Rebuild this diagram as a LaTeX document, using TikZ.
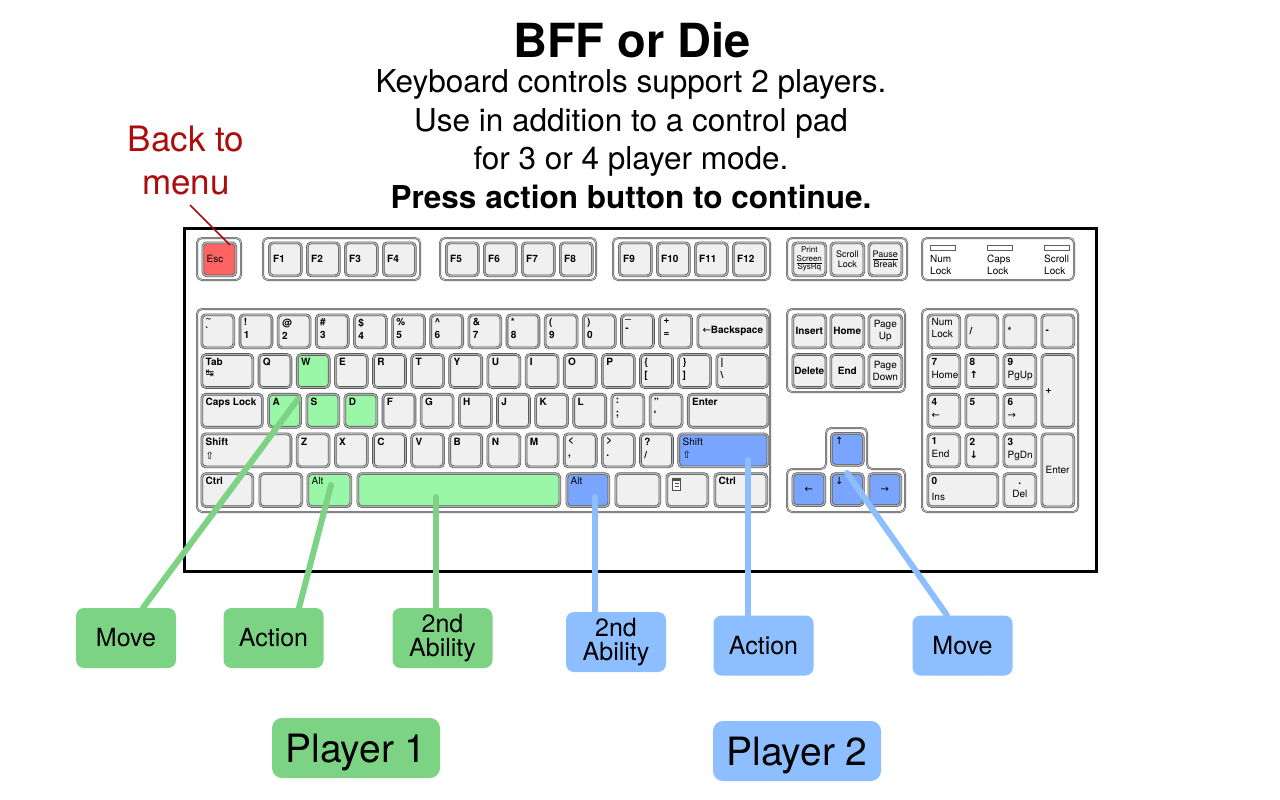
\documentclass[tikz,border=0pt]{standalone}
\usepackage{fontspec}
\setmainfont{TeX Gyre Heros}
\newfontfamily\symfont{DejaVu Sans}
\usepackage{tikz}
\usetikzlibrary{
	positioning,
	shapes.geometric
}
\definecolor{KeyFace}{RGB}{240,240,240}
\definecolor{KeyEdge}{RGB}{80,80,80}
\definecolor{KeyRim}{RGB}{175,175,175}
\definecolor{GroupEdge}{RGB}{95,95,95}
\definecolor{GroupRim}{RGB}{200,200,200}
\definecolor{GreenKey}{RGB}{155,247,168}
\definecolor{BlueKey}{RGB}{121,165,255}
\definecolor{RedKey}{RGB}{255,100,100}
\definecolor{GreenTag}{RGB}{124,211,132}
\definecolor{BlueTag}{RGB}{141,190,255}
\definecolor{MenuRed}{RGB}{172,12,12}

% [label options], name, left x, top y, width, height, face colour, label anchor, label
\newcommand{\keycap}[9][]{%
	\node[
	keycap,
	fill=#7,
	minimum width={#5-3},
	minimum height={#6-3},
	anchor=north west
	] (#2) at ({#3+1.5},{#4+1.5}) {};
	\node[keytext, anchor=#8, lbl #8, #1] at (#2.#8) {#9};
}

\begin{document}
\begin{tikzpicture}[
				x=1pt,
				y=-1pt,
				every node/.style={
					font=\fontsize{10}{13}\selectfont
				},
				keycap/.style={
					draw=KeyEdge,
					double=KeyRim,
					double distance=1.4pt,
					line width=0.6pt,
					rounded corners=4pt,
					inner sep=0pt
				},
				keytext/.style={
					inner sep=4pt,
					font=\fontsize{10}{13}\selectfont\bfseries
				},
				keythin/.style={
					font=\fontsize{10}{12}\selectfont
				},
				keytiny/.style={
					font=\fontsize{8}{8.5}\selectfont
				},
				lbl north west/.style={align=left},
				lbl west/.style={align=left},
				lbl center/.style={align=center},
				kbgroup/.style={
					draw=GroupEdge,
					double=GroupRim,
					double distance=0.8pt,
					line width=0.6pt,
					rounded corners=5pt,
					fill=white
				},
				ledtext/.style={
					anchor=north west,
					inner sep=0pt,
					align=left,
					font=\fontsize{10}{12}\selectfont
				},
				tag/.style={
					rounded corners=8pt,
					minimum width=100pt,
					minimum height=60pt,
					align=center,
					font=\fontsize{25}{24}\selectfont
				},
				player/.style={
					rounded corners=10pt,
					minimum width=168pt,
					minimum height=60pt,
					text depth=0pt,
					font=\fontsize{39}{40}\selectfont
				},
				link/.style={
					line width=6pt,
					line cap=round
				}
				]
				
				\fill[white] (0,0) rectangle (1280,800);
				\useasboundingbox (0,0) rectangle (1280,800);
				
				% heading
				\node[font=\fontsize{47}{50}\selectfont\bfseries] (title) at (632,40) {BFF or Die};
				\node[
				align=center,
				font=\fontsize{31.5}{38.5}\selectfont
				] (info) at (631,139) {Keyboard controls support 2 players.\\Use in addition to a control pad\\for 3 or 4 player mode.\\\textbf{Press action button to continue.}};
				
				\node[
				align=center,
				text=MenuRed,
				font=\fontsize{35}{43}\selectfont
				] (back) at (186,161) {Back to\\menu};
				
				% keyboard body
				\draw[line width=3pt] (184,228) rectangle (1096,571);
				
				\draw[kbgroup] (197,238) rectangle (241,280);
				\draw[kbgroup] (263,238) rectangle (420,280);
				\draw[kbgroup] (440,238) rectangle (596,280);
				\draw[kbgroup] (613,238) rectangle (770,280);
				\draw[kbgroup] (787,238) rectangle (907,280);
				\draw[kbgroup] (922,238) rectangle (1074,280);
				\draw[kbgroup] (197,309) rectangle (770,512);
				\draw[kbgroup] (787,309) rectangle (905,392);
				\draw[kbgroup] (787,469) -- (826,469) -- (826,428) -- (867,428) -- (867,469) -- (905,469) -- (905,512) -- (787,512) -- cycle;
				\draw[kbgroup] (922,309) rectangle (1078,512);
				
				% function row
				\keycap[keythin]{esc}{201}{241}{36}{36}{RedKey}{west}{Esc}
				\foreach \lbl [count=\i from 0] in {F1,F2,F3,F4}{
					\pgfmathsetmacro\kx{267.5+38*\i}
					\keycap{fa\i}{\kx}{241}{35}{36}{KeyFace}{west}{\lbl}
				}
				\foreach \lbl [count=\i from 0] in {F5,F6,F7,F8}{
					\pgfmathsetmacro\kx{444.5+38*\i}
					\keycap{fb\i}{\kx}{241}{35}{36}{KeyFace}{west}{\lbl}
				}
				\foreach \lbl [count=\i from 0] in {F9,F10,F11,F12}{
					\pgfmathsetmacro\kx{617.5+38*\i}
					\keycap{fc\i}{\kx}{241}{35}{36}{KeyFace}{west}{\lbl}
				}
				\keycap[keytiny]{prt}{791}{241}{36}{36}{KeyFace}{center}{Print\\\underline{Screen}\\SysRq}
				\keycap[keytiny, font=\fontsize{9}{10}\selectfont]{scr}{829}{241}{36}{36}{KeyFace}{center}{Scroll\\Lock}
				\keycap[keytiny, font=\fontsize{9}{10}\selectfont]{pau}{867}{241}{36}{36}{KeyFace}{center}{\underline{Pause}\\Break}
				
				% lock lights
				\foreach \lx/\lname [count=\i] in {930/Num,987/Caps,1044/Scroll}{
					\draw[GroupEdge, fill=white] (\lx,245) rectangle ++(25,5);
					\node[ledtext] (led\i) at (\lx,255) {\lname\\Lock};
				}
				
				% number row
				\foreach \lbl [count=\i from 0] in {{\textasciitilde\\\textasciigrave},{!\\1},{@\\2},{\#\\3},{\$\\4},{\%\\5},{\textasciicircum\\6},{\&\\7},{*\\8},{(\\9},{)\\0},{\_\\-},{+\\=}}{
					\pgfmathsetmacro\kx{200+38.15*\i}
					\keycap{n\i}{\kx}{313}{35}{36}{KeyFace}{north west}{\lbl}
				}
				\keycap{bksp}{696}{313}{73}{36}{KeyFace}{center}{{\symfont\mdseries ←}Backspace}
				
				% top letter row
				\keycap{tab}{200}{352.7}{54}{36}{KeyFace}{north west}{Tab\\[-2pt]{\symfont\mdseries ↹}}
				\keycap{kQ}{257.2}{352.7}{35}{36}{KeyFace}{north west}{Q}
				\keycap{kW}{295.4}{352.7}{35}{36}{GreenKey}{north west}{W}
				\foreach \lbl [count=\i from 0] in {E,R,T,Y,U,I,O,P,{\{\\{}[},{\}\\{}]}}{
					\pgfmathsetmacro\kx{200+38.15*(3.5+\i)}
					\keycap{t\i}{\kx}{352.7}{35}{36}{KeyFace}{north west}{\lbl}
				}
				\keycap{bsl}{715}{352.7}{54}{36}{KeyFace}{north west}{\textbar\\\textbackslash}
				
				% home row
				\keycap{caps}{200}{392.4}{63.6}{36}{KeyFace}{north west}{Caps Lock}
				\keycap{kA}{266.8}{392.4}{35}{36}{GreenKey}{north west}{A}
				\keycap{kS}{305}{392.4}{35}{36}{GreenKey}{north west}{S}
				\keycap{kD}{343.1}{392.4}{35}{36}{GreenKey}{north west}{D}
				\foreach \lbl [count=\i from 0] in {F,G,H,J,K,L,{:\\;},{"\\\textquotesingle}}{
					\pgfmathsetmacro\kx{200+38.15*(4.75+\i)}
					\keycap{h\i}{\kx}{392.4}{35}{36}{KeyFace}{north west}{\lbl}
				}
				\keycap{ent}{686.4}{392.4}{82.7}{36}{KeyFace}{north west}{Enter}
				
				% bottom letter row
				\keycap{lsh}{200}{432.1}{92.2}{36}{KeyFace}{north west}{Shift\\[1pt]{\symfont\mdseries ⇧}}
				\foreach \lbl [count=\i from 0] in {Z,X,C,V,B,N,M,{<\\,},{>\\.},{?\\/}}{
					\pgfmathsetmacro\kx{200+38.15*(2.5+\i)}
					\keycap{b\i}{\kx}{432.1}{35}{36}{KeyFace}{north west}{\lbl}
				}
				\keycap[keythin]{rsh}{676.9}{432.1}{92.2}{36}{BlueKey}{north west}{Shift\\[1pt]{\symfont ⇧}}
				
				% space row
				\keycap{lctl}{200}{471.8}{54}{36}{KeyFace}{north west}{Ctrl}
				\keycap{lwin}{258}{471.8}{45}{36}{KeyFace}{north west}{}
				\keycap[keythin]{lalt}{306}{471.8}{46}{36}{GreenKey}{north west}{Alt}
				\keycap{spc}{356}{471.8}{205}{36}{GreenKey}{north west}{}
				\keycap[keythin]{ralt}{565}{471.8}{45}{36}{BlueKey}{north west}{Alt}
				\keycap{rwin}{614}{471.8}{47}{36}{KeyFace}{north west}{}
				\keycap{menu}{665}{471.8}{44}{36}{KeyFace}{north west}{}
				\keycap{rctl}{713}{471.8}{55}{36}{KeyFace}{north west}{Ctrl}
				\draw[KeyEdge, fill=white] ([shift={(6,5)}]menu.north west) rectangle ++(8,12);
				\fill[KeyEdge] ([shift={(6,5)}]menu.north west) rectangle ++(8,3);
				\foreach \ly in {10,13}{
					\draw[KeyEdge, line width=0.6pt] ([shift={(8,\ly)}]menu.north west) -- ++(4,0);
				}
				
				% editing keys
				\keycap{ins}{791}{313}{36}{36}{KeyFace}{center}{Insert}
				\keycap{hom}{829}{313}{36}{36}{KeyFace}{center}{Home}
				\keycap[keythin]{pgu}{867}{313}{36}{36}{KeyFace}{center}{Page\\Up}
				\keycap{del}{791}{352.7}{36}{36}{KeyFace}{center}{Delete}
				\keycap{end}{829}{352.7}{36}{36}{KeyFace}{center}{End}
				\keycap[keythin]{pgd}{867}{352.7}{36}{36}{KeyFace}{center}{Page\\Down}
				
				% arrow keys
				\keycap[keythin]{up}{829.5}{431.5}{35}{35}{BlueKey}{north west}{\symfont ↑}
				\keycap[keythin]{lft}{791}{471.8}{35}{35}{BlueKey}{center}{\symfont ←}
				\keycap[keythin]{dwn}{829.5}{471.8}{35}{35}{BlueKey}{north west}{\symfont ↓}
				\keycap[keythin]{rgt}{867}{471.8}{35}{35}{BlueKey}{center}{\symfont →}
				
				% number pad
				\keycap[keythin]{nlk}{926}{313}{35}{36}{KeyFace}{north west}{Num\\Lock}
				\keycap{pdiv}{964}{313}{35}{36}{KeyFace}{west}{/}
				\keycap{pmul}{1002}{313}{35}{36}{KeyFace}{west}{*}
				\keycap{psub}{1040}{313}{35}{36}{KeyFace}{west}{-}
				\keycap{p7}{926}{352.7}{35}{36}{KeyFace}{north west}{7\\\mdseries Home}
				\keycap{p8}{964}{352.7}{35}{36}{KeyFace}{north west}{8\\{\symfont ↑}}
				\keycap{p9}{1002}{352.7}{35}{36}{KeyFace}{north west}{9\\\mdseries PgUp}
				\keycap{padd}{1040}{352.7}{35}{75.7}{KeyFace}{west}{+}
				\keycap{p4}{926}{392.4}{35}{36}{KeyFace}{north west}{4\\{\symfont\mdseries ←}}
				\keycap{p5}{964}{392.4}{35}{36}{KeyFace}{north west}{5}
				\keycap{p6}{1002}{392.4}{35}{36}{KeyFace}{north west}{6\\{\symfont\mdseries →}}
				\keycap{p1}{926}{432.1}{35}{36}{KeyFace}{north west}{1\\\mdseries End}
				\keycap{p2}{964}{432.1}{35}{36}{KeyFace}{north west}{2\\{\symfont ↓}}
				\keycap{p3}{1002}{432.1}{35}{36}{KeyFace}{north west}{3\\\mdseries PgDn}
				\keycap[keythin]{pent}{1040}{432.1}{35}{76}{KeyFace}{west}{Enter}
				\keycap{p0}{926}{471.8}{73}{36}{KeyFace}{north west}{0\\[3pt]\mdseries Ins}
				\keycap{pdot}{1002}{471.8}{35}{36}{KeyFace}{center}{.\\\mdseries Del}
				
				% player tags
				\node[tag, fill=GreenTag] (gMove) at (126,638) {Move};
				\node[tag, fill=GreenTag] (gAct) at (273.5,638) {Action};
				\node[tag, fill=GreenTag] (gAbil) at (442.5,638) {2nd\\Ability};
				\node[tag, fill=BlueTag] (bAbil) at (616,642) {2nd\\Ability};
				\node[tag, fill=BlueTag] (bAct) at (763.5,645.5) {Action};
				\node[tag, fill=BlueTag] (bMove) at (962.5,645.5) {Move};
				
				\node[player, fill=GreenTag] (pOne) at (356,748) {Player 1};
				\node[player, fill=BlueTag] (pTwo) at (797,751) {Player 2};
				
				% key pointers
				\coordinate (gMoveEnd) at (298,399);
				\coordinate (gActEnd) at (331,485);
				\coordinate (gAbilEnd) at (436,497);
				\coordinate (bAbilEnd) at (595,497);
				\coordinate (bActEnd) at (748,460);
				\coordinate (bMoveEnd) at (847,473);
				\coordinate (escEnd) at (230,245);
				
				\draw[link, GreenTag] ([xshift=17pt]gMove.north) -- (gMoveEnd);
				\draw[link, GreenTag] ([xshift=25.5pt]gAct.north) -- (gActEnd);
				\draw[link, GreenTag] ([xshift=-6.5pt]gAbil.north) -- (gAbilEnd);
				\draw[link, BlueTag] ([xshift=-21pt]bAbil.north) -- (bAbilEnd);
				\draw[link, BlueTag] ([xshift=-15.5pt]bAct.north) -- (bActEnd);
				\draw[link, BlueTag] ([xshift=-15.5pt]bMove.north) -- (bMoveEnd);
				
				\draw[MenuRed, line width=1.5pt] ([shift={(4,6)}]back.south) -- (escEnd);
				
			\end{tikzpicture}
\end{document}
